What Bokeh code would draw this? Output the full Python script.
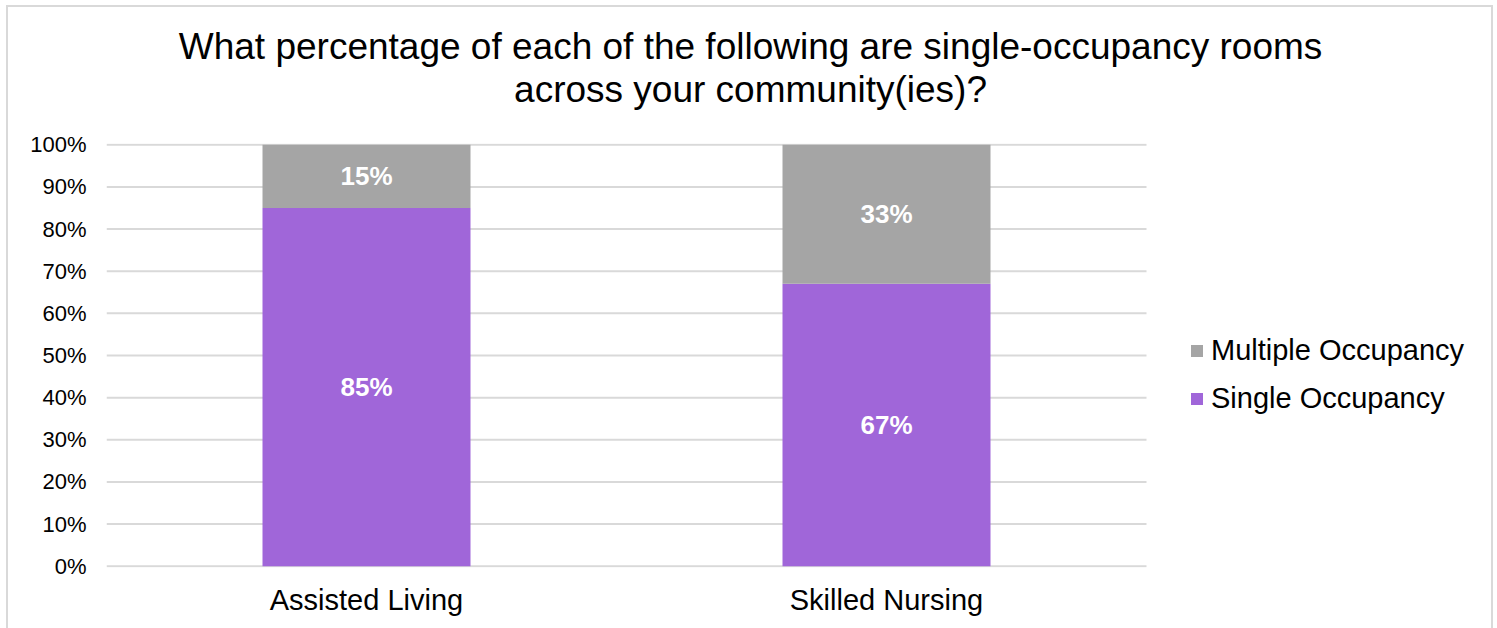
from bokeh.plotting import figure
from bokeh.models import (ColumnDataSource, Range1d, Legend, LegendItem,
                          NumeralTickFormatter, FixedTicker, Title)
from bokeh.embed import file_html
from bokeh.resources import INLINE
from bokeh.core.properties import value

categories = ["Assisted Living", "Skilled Nursing"]
single = [0.85, 0.67]
multiple = [0.15, 0.33]
single_labels = ["85%", "67%"]
multiple_labels = ["15%", "33%"]
y_ticks = [0.0, 0.1, 0.2, 0.3, 0.4, 0.5, 0.6, 0.7, 0.8, 0.9, 1.0]
title_lines = ["What percentage of each of the following are single-occupancy rooms",
               "across your community(ies)?"]
series_names = ["Single Occupancy", "Multiple Occupancy"]

PURPLE = "#a066d9"
GRAY = "#a5a5a5"
FONT = "Liberation Sans"

W, H = 1497, 628
ML, MR, MT, MB = 106, 9, 144, 62
CAT_PX = 520                                   # pixels per category slot
x_end = (W - ML - MR) / CAT_PX                 # plot area extends under the legend

xpos = [i + 0.5 for i in range(len(categories))]
src = ColumnDataSource(dict(
    x=xpos,
    single=single,
    s_bottom=[0.0] * len(categories),
    m_bottom=single,
    m_top=[a + b for a, b in zip(single, multiple)],
    s_mid=[v / 2 for v in single],
    m_mid=[a + b / 2 for a, b in zip(single, multiple)],
    s_lab=single_labels,
    m_lab=multiple_labels,
))

p = figure(width=W, height=H, x_range=Range1d(0, x_end),
           y_range=Range1d(-0.003, 1.003), output_backend="svg", toolbar_location=None,
           title=None, min_border_left=ML, min_border_right=MR,
           min_border_top=MT - 1, min_border_bottom=MB - 1)
p.outline_line_color = None
p.background_fill_alpha = 0
p.border_fill_alpha = 0
p.styles = {"box-shadow": ("inset 6px 0 0 0 white, inset -4px 0 0 0 white, "
                           "inset 0 5px 0 0 white, "
                           "inset 8px 0 0 0 #d9d9d9, inset -6px 0 0 0 #d9d9d9, "
                           "inset 0 7px 0 0 #d9d9d9")}

# horizontal gridlines limited to the category area
p.segment(x0=[0] * len(y_ticks), x1=[len(categories)] * len(y_ticks),
          y0=y_ticks, y1=y_ticks, line_color="#d9d9d9", line_width=2)

r_s = p.vbar(x="x", top="single", bottom="s_bottom", width=0.4, source=src,
             fill_color=PURPLE, line_color=None)
r_m = p.vbar(x="x", top="m_top", bottom="m_bottom", width=0.4, source=src,
             fill_color=GRAY, line_color=None)

for ycol, tcol in (("s_mid", "s_lab"), ("m_mid", "m_lab")):
    p.text(x="x", y=ycol, text=tcol, source=src, text_color="white",
           text_font=value(FONT), text_font_style="bold", text_font_size="26px",
           text_align="center", text_baseline="middle")

p.xaxis.ticker = FixedTicker(ticks=xpos)
p.xaxis.major_label_overrides = {x: c for x, c in zip(xpos, categories)}
p.yaxis.ticker = FixedTicker(ticks=y_ticks)
p.yaxis.formatter = NumeralTickFormatter(format="0%")
for ax in (p.xaxis[0], p.yaxis[0]):
    ax.axis_line_color = None
    ax.major_tick_line_color = None
    ax.minor_tick_line_color = None
    ax.major_tick_out = 0
    ax.major_tick_in = 0
    ax.minor_tick_out = 0
    ax.major_label_text_font = FONT
    ax.major_label_text_color = "black"
p.yaxis.major_label_text_font_size = "22px"
p.yaxis.major_label_standoff = 20
p.xaxis.major_label_text_font_size = "29px"
p.xaxis.major_label_standoff = 16
p.grid.visible = False

# titles: spacer (closest to frame), second line, first line
TFS = 37
w1 = 30.903 * TFS
w2 = 12.78 * TFS
p.add_layout(Title(text=" ", text_font=FONT, text_font_size="10px", standoff=21), "above")
p.add_layout(Title(text=title_lines[1], text_font=FONT, text_font_size=f"{TFS}px",
                   text_font_style="normal", text_color="black", align="left",
                   offset=750 - w2 / 2 - ML, standoff=0), "above")
p.add_layout(Title(text=title_lines[0], text_font=FONT, text_font_size=f"{TFS}px",
                   text_font_style="normal", text_color="black", align="left",
                   offset=750 - w1 / 2 - ML, standoff=0), "above")

legend = Legend(items=[LegendItem(label=series_names[1], renderers=[r_m]),
                       LegendItem(label=series_names[0], renderers=[r_s])],
                location=(1189 - ML, 152), padding=0, margin=0,
                spacing=15, glyph_width=15, glyph_height=15, label_standoff=7,
                label_height=33, label_text_font=FONT, label_text_font_size="29px",
                label_text_color="black", border_line_color=None,
                background_fill_alpha=0)
p.add_layout(legend, "center")

open("out.html", "w").write(file_html(p, INLINE))
